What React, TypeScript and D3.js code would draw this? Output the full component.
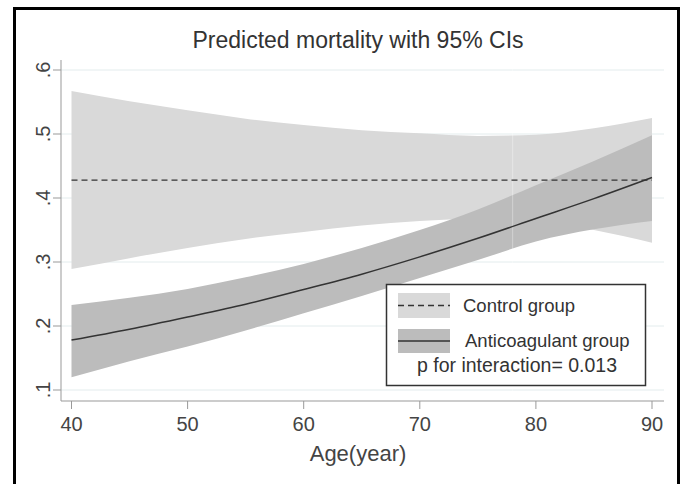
import React from "react";
import { scaleLinear, area, line, curveMonotoneX } from "d3";

const ages = [40, 45, 50, 55, 60, 65, 70, 75, 80, 85, 90];
const controlEst = [0.428, 0.428, 0.428, 0.428, 0.428, 0.428, 0.428, 0.428, 0.428, 0.428, 0.428];
const controlUpper = [0.567, 0.551, 0.537, 0.524, 0.514, 0.506, 0.501, 0.497, 0.499, 0.509, 0.525];
const controlLower = [0.289, 0.306, 0.322, 0.336, 0.347, 0.357, 0.364, 0.367, 0.364, 0.35, 0.33];
const antiEst = [0.178, 0.195, 0.214, 0.234, 0.257, 0.281, 0.308, 0.337, 0.368, 0.399, 0.432];
const antiUpper = [0.233, 0.244, 0.258, 0.276, 0.297, 0.322, 0.35, 0.382, 0.42, 0.458, 0.498];
const antiLower = [0.12, 0.145, 0.168, 0.193, 0.22, 0.247, 0.275, 0.303, 0.332, 0.351, 0.364];

const xTicks = [40, 50, 60, 70, 80, 90];
const yTicks = [0.1, 0.2, 0.3, 0.4, 0.5, 0.6];
const yTickLabels = [".1", ".2", ".3", ".4", ".5", ".6"];

const font = "'Liberation Sans', Arial, sans-serif";

export default function App() {
  const width = 685;
  const height = 484;

  const x = scaleLinear().domain([40, 90]).range([71.5, 652]);
  const y = scaleLinear().domain([0.1, 0.6]).range([390, 70]);

  const plotLeft = 61;
  const plotRight = 664;
  const plotTop = 60;
  const plotBottom = 401;

  const band = (lo, hi) =>
    area()
      .x((d, i) => x(ages[i]))
      .y0((d, i) => y(lo[i]))
      .y1((d, i) => y(hi[i]))
      .curve(curveMonotoneX)(ages);

  const path = (vals) =>
    line()
      .x((d, i) => x(ages[i]))
      .y((d, i) => y(vals[i]))
      .curve(curveMonotoneX)(ages);

  return (
    <svg
      width={width}
      height={height}
      style={{ position: "absolute", left: 0, top: 0, background: "#fff" }}
    >
      {/* outer frame */}
      <path d="M14.5,484 V8.5 H678.5 V484" fill="none" stroke="#000" strokeWidth={3} />

      <text x={358} y={48} textAnchor="middle" fontFamily={font} fontSize={23} fill="#333">
        Predicted mortality with 95% CIs
      </text>

      {/* grid */}
      {yTicks.map((t) => (
        <line key={t} x1={plotLeft} x2={plotRight} y1={y(t)} y2={y(t)} stroke="#e3eced" strokeWidth={1} />
      ))}

      <path d={band(controlLower, controlUpper)} fill="#d9d9d9" />
      <path d={band(antiLower, antiUpper)} fill="#bcbcbc" />
      <line x1={x(78)} x2={x(78)} y1={plotTop} y2={plotBottom} stroke="#fff" strokeOpacity={0.35} />
      <path d={path(controlEst)} fill="none" stroke="#333" strokeWidth={1.4} strokeDasharray="6,4" />
      <path d={path(antiEst)} fill="none" stroke="#333" strokeWidth={1.5} />

      {/* axes */}
      <line x1={plotLeft} x2={plotLeft} y1={plotTop} y2={plotBottom} stroke="#999" />
      <line x1={plotLeft} x2={plotRight} y1={plotBottom} y2={plotBottom} stroke="#999" />
      {yTicks.map((t, i) => (
        <g key={t}>
          <line x1={plotLeft - 8} x2={plotLeft} y1={y(t)} y2={y(t)} stroke="#999" />
          <text
            transform={`translate(50,${y(t)}) rotate(-90)`}
            textAnchor="middle"
            fontFamily={font}
            fontSize={20}
            fill="#444"
          >
            {yTickLabels[i]}
          </text>
        </g>
      ))}
      {xTicks.map((t) => (
        <g key={t}>
          <line x1={x(t)} x2={x(t)} y1={plotBottom} y2={plotBottom + 8} stroke="#999" />
          <text x={x(t)} y={431} textAnchor="middle" fontFamily={font} fontSize={20} fill="#444">
            {t}
          </text>
        </g>
      ))}
      <text x={358} y={461} textAnchor="middle" fontFamily={font} fontSize={22} fill="#444">
        Age(year)
      </text>

      {/* legend */}
      <rect x={386.5} y={284.5} width={259} height={101} fill="#fff" stroke="#333" strokeWidth={1.5} />
      <rect x={398} y={293} width={52} height={25} fill="#d9d9d9" />
      <line x1={398} x2={450} y1={305.5} y2={305.5} stroke="#333" strokeWidth={1.4} strokeDasharray="6,4" />
      <text x={463} y={312} fontFamily={font} fontSize={18.5} fill="#333">
        Control group
      </text>
      <rect x={398} y={329} width={52} height={24} fill="#bcbcbc" />
      <line x1={398} x2={450} y1={341} y2={341} stroke="#333" strokeWidth={1.5} />
      <text x={465} y={347} fontFamily={font} fontSize={18.5} fill="#333">
        Anticoagulant group
      </text>
      <text x={517} y={372} textAnchor="middle" fontFamily={font} fontSize={19.5} fill="#333">
        p for interaction= 0.013
      </text>
    </svg>
  );
}
